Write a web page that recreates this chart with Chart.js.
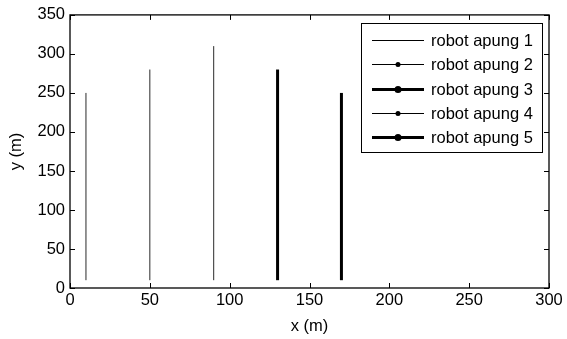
<!DOCTYPE html>
<html>
<head>
<meta charset="utf-8">
<script src="https://cdn.jsdelivr.net/npm/chart.js@4"></script>
<style>
  html, body { margin: 0; padding: 0; background: #fff; }
  #wrap { width: 567px; height: 339px; }
</style>
</head>
<body>
<div id="wrap"><canvas id="myChart" width="567" height="339"></canvas></div>
<script>
// data
const robotNames = ['robot apung 1', 'robot apung 2', 'robot apung 3', 'robot apung 4', 'robot apung 5'];
const robotX = [10, 50, 90, 130, 170];
const startY = [10, 10, 10, 10, 10];
const endY = [250, 280, 310, 280, 250];
const lineWidths = [1, 1, 1, 3, 3];
// legend samples (as in the legend, not the plotted lines)
const legendWidths = [1, 1, 3, 1, 3];
const legendDots = [0, 2.5, 3.5, 2.5, 3.5];
const xTicks = [0, 50, 100, 150, 200, 250, 300];
const yTicks = [0, 50, 100, 150, 200, 250, 300, 350];

const FONT = 'Liberation Sans, Arial, sans-serif';
const FS = 16.5;

const datasets = robotNames.map((name, i) => ({
  label: name,
  data: [{ x: robotX[i], y: startY[i] }, { x: robotX[i], y: endY[i] }],
  borderColor: i < 3 ? '#2a2a2a' : '#000',
  borderWidth: lineWidths[i],
  pointRadius: 0,
  showLine: true,
  fill: false
}));

// inward ticks on all four sides, MATLAB style
const boxTicks = {
  id: 'boxTicks',
  afterDraw(chart) {
    const { ctx, chartArea: a, scales } = chart;
    ctx.save();
    ctx.strokeStyle = '#000';
    ctx.lineWidth = 1;
    ctx.beginPath();
    xTicks.forEach(v => {
      const px = Math.round(scales.x.getPixelForValue(v)) + 0.5;
      ctx.moveTo(px, a.bottom); ctx.lineTo(px, a.bottom - 5);
      ctx.moveTo(px, a.top); ctx.lineTo(px, a.top + 5);
    });
    yTicks.forEach(v => {
      const py = Math.round(scales.y.getPixelForValue(v)) + 0.5;
      ctx.moveTo(a.left, py); ctx.lineTo(a.left + 5, py);
      ctx.moveTo(a.right, py); ctx.lineTo(a.right - 5, py);
    });
    ctx.stroke();
    ctx.lineWidth = 1.3;
    ctx.strokeRect(a.left, a.top, a.right - a.left, a.bottom - a.top);
    ctx.restore();
  }
};

// legend box inside the axes, top right
const boxLegend = {
  id: 'boxLegend',
  afterDraw(chart) {
    const { ctx } = chart;
    const left = 361, top = 23, right = 542, bottom = 152;
    ctx.save();
    ctx.fillStyle = '#fff';
    ctx.fillRect(left, top, right - left, bottom - top);
    ctx.strokeStyle = '#000';
    ctx.lineWidth = 1;
    ctx.strokeRect(left + 0.5, top + 0.5, right - left, bottom - top);
    ctx.font = FS + 'px ' + FONT;
    ctx.textBaseline = 'middle';
    ctx.fillStyle = '#000';
    robotNames.forEach((name, i) => {
      const y = Math.round(40 + i * 24.3);
      const ly = legendWidths[i] % 2 ? y + 0.5 : y;
      ctx.beginPath();
      ctx.lineWidth = legendWidths[i];
      ctx.strokeStyle = '#000';
      ctx.moveTo(372, ly); ctx.lineTo(424, ly);
      ctx.stroke();
      if (legendDots[i]) {
        ctx.beginPath();
        ctx.arc(398, ly, legendDots[i], 0, Math.PI * 2);
        ctx.fill();
      }
      ctx.fillText(name, 431, y + 1);
    });
    ctx.restore();
  }
};

new Chart(document.getElementById('myChart'), {
  type: 'scatter',
  data: { datasets },
  plugins: [boxTicks, boxLegend],
  options: {
    responsive: false,
    animation: false,
    layout: { padding: { left: 7, right: 18, top: 13, bottom: 3 } },
    plugins: { legend: { display: false }, tooltip: { enabled: false } },
    scales: {
      x: {
        type: 'linear', min: 0, max: 300,
        afterBuildTicks: s => { s.ticks = xTicks.map(v => ({ value: v })); },
        afterFit: s => { s.height = 48; },
        grid: { display: false, drawTicks: false },
        border: { display: false },
        ticks: { color: '#000', font: { family: FONT, size: FS }, padding: 3, maxRotation: 0 },
        title: { display: true, text: 'x (m)', color: '#000', font: { family: FONT, size: FS }, padding: { top: 0, bottom: 0 } }
      },
      y: {
        type: 'linear', min: 0, max: 350,
        afterBuildTicks: s => { s.ticks = yTicks.map(v => ({ value: v })); },
        afterFit: s => { s.width = 63; },
        grid: { display: false, drawTicks: false },
        border: { display: false },
        ticks: { color: '#000', font: { family: FONT, size: FS }, padding: 5 },
        title: { display: true, text: 'y (m)', color: '#000', font: { family: FONT, size: FS }, padding: { top: 0, bottom: 0 } }
      }
    }
  }
});
</script>
</body>
</html>
